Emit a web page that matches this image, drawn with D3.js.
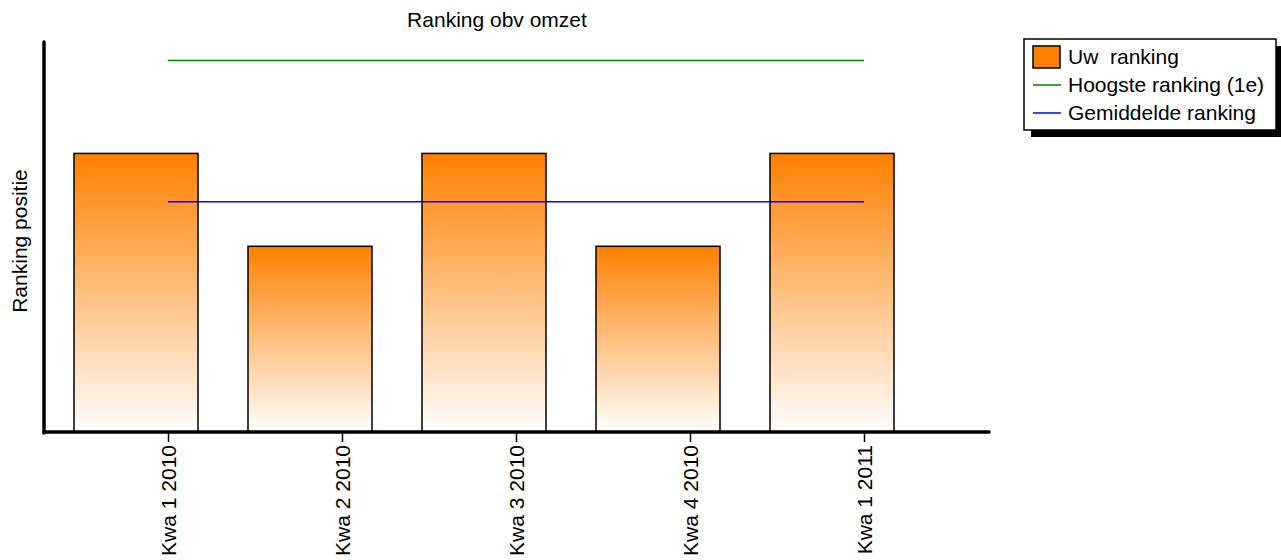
<!DOCTYPE html>
<html><head><meta charset="utf-8">
<script src="https://cdn.jsdelivr.net/npm/d3@7"></script>
<style>body{margin:0;background:#fff}svg{display:block}text{font-family:"Liberation Sans",Arial,sans-serif;fill:#000}</style>
</head><body>
<script>
const categories = ["Kwa 1 2010","Kwa 2 2010","Kwa 3 2010","Kwa 4 2010","Kwa 1 2011"];
const uwRanking = [3,2,3,2,3];
const hoogsteRanking = [4,4,4,4,4];
const gemiddeldeRanking = [2.48,2.48,2.48,2.48,2.48];
const legendLabels = ["Uw  ranking","Hoogste ranking (1e)","Gemiddelde ranking"];

const W=1281,H=560;
const svg=d3.select("body").append("svg").attr("width",W).attr("height",H);
const defs=svg.append("defs");
const g=defs.append("linearGradient").attr("id","og").attr("x1",0).attr("y1",0).attr("x2",0).attr("y2",1);
g.append("stop").attr("offset","0%").attr("stop-color","#ff8000");
g.append("stop").attr("offset","100%").attr("stop-color","#ffffff");

// bar band scale (bars sit left of their tick in the original)
const xb=d3.scaleBand().domain(categories).range([49,919]).paddingInner(0.2874).paddingOuter(0.1437);
// tick / line positions
const xp=d3.scalePoint().domain(categories).range([168,864]);
const y=d3.scaleLinear().domain([0,4.2]).range([432,42]);

svg.selectAll("rect.bar").data(uwRanking).enter().append("rect")
 .attr("x",(d,i)=>xb(categories[i])).attr("width",xb.bandwidth())
 .attr("y",d=>y(d)).attr("height",d=>y(0)-y(d))
 .attr("fill","url(#og)").attr("stroke","#000").attr("stroke-width",1.5);

const line=d3.line().x((d,i)=>xp(categories[i])).y(d=>y(d));
svg.append("path").attr("d",line(hoogsteRanking)).attr("fill","none").attr("stroke","#008000").attr("stroke-width",1.5);
svg.append("path").attr("d",line(gemiddeldeRanking)).attr("fill","none").attr("stroke","#0000ff").attr("stroke-width",1.5);

// axes
svg.append("line").attr("x1",44).attr("x2",44).attr("y1",42).attr("y2",433).attr("stroke","#000").attr("stroke-width",3.5).attr("stroke-linecap","round");
svg.append("line").attr("x1",44).attr("x2",989).attr("y1",432).attr("y2",432).attr("stroke","#000").attr("stroke-width",3.5).attr("stroke-linecap","round");
const ax=svg.append("g").attr("transform","translate(0,433)")
 .call(d3.axisBottom(xp).tickSize(9).tickPadding(5));
ax.select(".domain").remove();
ax.selectAll(".tick line").attr("stroke","#000").attr("stroke-width",1.5);
ax.selectAll(".tick text").attr("transform","rotate(-90)").attr("text-anchor","end")
 .attr("x",-12).attr("y",0).attr("dy","0.35em").style("font-size","21px")
 .style("font-family","'Liberation Sans',Arial,sans-serif").attr("fill","#000");

svg.append("text").attr("x",497).attr("y",27).attr("text-anchor","middle").style("font-size","21px").text("Ranking obv omzet");
svg.append("text").attr("transform","translate(27,241) rotate(-90)").attr("text-anchor","middle").style("font-size","21px").text("Ranking positie");

// legend
const lg=svg.append("g");
lg.append("rect").attr("x",1031).attr("y",46).attr("width",250).attr("height",91).attr("fill","#000");
lg.append("rect").attr("x",1024).attr("y",39).attr("width",252).attr("height",91).attr("fill","#fff").attr("stroke","#000").attr("stroke-width",1.5);
lg.append("rect").attr("x",1033).attr("y",46).attr("width",27).attr("height",22).attr("fill","#ff8000").attr("stroke","#000").attr("stroke-width",1.5);
lg.append("line").attr("x1",1033).attr("x2",1061).attr("y1",85).attr("y2",85).attr("stroke","#008000").attr("stroke-width",1.5);
lg.append("line").attr("x1",1033).attr("x2",1061).attr("y1",113).attr("y2",113).attr("stroke","#0000ff").attr("stroke-width",1.5);
legendLabels.forEach((t,i)=>{
 lg.append("text").attr("x",1068).attr("y",57+i*28).attr("dy","0.35em").style("font-size","21px").style("white-space","pre").attr("xml:space","preserve").text(t);
});
</script>
</body></html>
